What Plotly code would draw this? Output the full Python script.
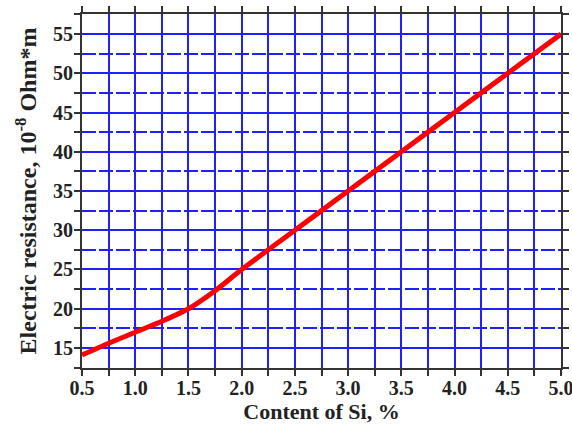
import plotly.graph_objects as go

# Silicon content (%) and electric resistance (10^-8 Ohm*m)
si_content = [0.5, 0.75, 1.0, 1.25, 1.5, 1.75, 2.0, 2.5, 3.0, 3.5, 4.0, 4.5, 5.0]
resistance = [14.1, 15.6, 17.0, 18.4, 20.0, 22.3, 25.0, 30.0, 35.0, 40.0, 45.0, 50.0, 55.0]

serif = "Liberation Serif"
tick_font = dict(family=serif, size=20, color="#222", weight="bold")
x_title_font = dict(family=serif, size=22, color="#222", weight="bold")
y_title_font = dict(family=serif, size=24, color="#222", weight="bold")

fig = go.Figure(
    go.Scatter(
        x=si_content, y=resistance, mode="lines",
        line=dict(color="#ff0000", width=5, shape="spline", smoothing=0.6),
        showlegend=False,
    )
)

axis_common = dict(
    showline=True, linecolor="#333", linewidth=2, mirror="ticks",
    ticks="outside", ticklen=6, tickwidth=2, tickcolor="#333",
    gridcolor="#2020ff", gridwidth=2, zeroline=False,
    tickfont=tick_font, automargin=False, ticklabeloverflow="allow",
)

fig.update_xaxes(
    range=[0.5, 5.0], dtick=0.5, tick0=0.5, tickformat=".1f",
    ticklabelstandoff=-5,
    minor=dict(dtick=0.25, showgrid=True, gridcolor="#2020ff", gridwidth=2,
               ticks="outside", ticklen=6, tickcolor="#333"),
    title=dict(text="Content of Si, %", standoff=2, font=x_title_font),
    **axis_common,
)
fig.update_yaxes(
    range=[12.45, 57.55], dtick=5, tick0=15,
    ticklabelstandoff=-3,
    minor=dict(dtick=2.5, tick0=12.5, showgrid=True, gridcolor="#2020ff", gridwidth=2,
               griddash="14px,3px", ticks="outside", ticklen=6, tickcolor="#333"),
    title=dict(text="Electric resistance, 10<sup>-8</sup> Ohm*m", standoff=10, font=y_title_font),
    **axis_common,
)

fig.update_layout(
    width=572, height=436,
    margin=dict(l=82, r=11, t=14, b=68),
    paper_bgcolor="white", plot_bgcolor="white",
    font=dict(family=serif, size=20, color="#222"),
)

fig.write_html("out.html")
